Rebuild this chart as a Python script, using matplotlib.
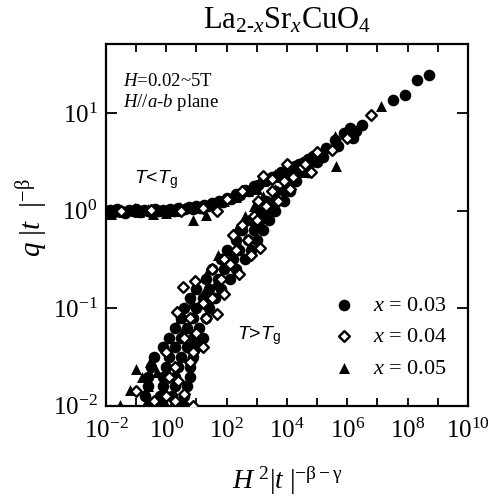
import numpy as np
import matplotlib
matplotlib.use("Agg")
import matplotlib.pyplot as plt
from matplotlib.ticker import FixedLocator, FixedFormatter, NullLocator

plt.rcParams['font.family'] = ['Liberation Serif', 'DejaVu Serif']
plt.rcParams['mathtext.fontset'] = 'custom'
plt.rcParams['mathtext.rm'] = 'Liberation Serif'
plt.rcParams['mathtext.it'] = 'Liberation Serif:italic'
plt.rcParams['mathtext.sf'] = 'Liberation Sans:italic'
plt.rcParams['mathtext.bf'] = 'Liberation Sans'

# values, kept as log10 (x = H^2|t|^(-b-g), y = q|t|^-b)
# x = 0.03, filled circles
circ_upper_x = [-2.0, -1.88, -1.75, -1.62, -1.5, -1.38, -1.25, -1.12, -1.0, -0.88, -0.75, -0.62,
                -0.5, -0.38, -0.25, -0.12, 0.0, 0.12, 0.25, 0.38, 0.5, 0.62, 0.75, 0.88, 1.0, 1.12,
                1.25, 1.38, 1.5, 1.62, 1.75, 1.88, 2.0, 2.15, 2.3, 2.45, 2.6, 2.75, 2.9, 3.05, 3.2,
                3.35, 3.5, 3.65, 3.8, 3.95, 4.1, 4.25, 4.4, 4.55, 4.7, 4.85]
circ_upper_y = [0.0, 0.01, -0.01, 0.02, 0.0, -0.02, 0.01, 0.0, 0.02, -0.01, 0.01, 0.0,
                -0.01, 0.02, 0.0, 0.01, -0.01, 0.02, 0.0, 0.03, 0.01, 0.02, 0.04, 0.02, 0.05, 0.03,
                0.06, 0.05, 0.08, 0.07, 0.1, 0.09, 0.13, 0.12, 0.17, 0.16, 0.21, 0.2, 0.25, 0.26, 0.3,
                0.31, 0.35, 0.36, 0.4, 0.41, 0.44, 0.46, 0.48, 0.5, 0.53, 0.56]
circ_lower_x = [-0.6, -0.1, 0.3, 0.6,
                -0.7, -0.2, 0.2, 0.6,
                -0.6, -0.1, 0.3, 0.7,
                -0.6, -0.1, 0.3, 0.8,
                -0.5, 0.0, 0.4, 0.8,
                -0.4, 0.1, 0.5, 0.9,
                -0.1, 0.3, 0.7, 1.0,
                0.1, 0.5, 0.9, 1.2,
                0.3, 0.7, 1.1,
                0.5, 0.9, 1.3,
                0.6, 1.0, 1.4,
                0.8, 1.2, 1.6,
                1.0, 1.4, 1.8,
                1.3, 1.7, 2.1,
                1.5, 1.9, 2.3,
                1.8, 2.2, 2.6,
                2.0, 2.4, 2.8,
                2.3, 2.7, 3.0,
                2.5, 2.9, 3.2,
                2.8, 3.1, 3.4,
                3.0, 3.3, 3.6,
                3.3, 3.6, 3.9,
                3.6, 3.9, 4.1,
                4.0, 4.3, 4.4, 4.7, 4.8, 5.0, 5.2]
circ_lower_y = [-2.0, -2.0, -2.0, -2.0,
                -1.9, -1.9, -1.9, -1.9,
                -1.8, -1.8, -1.8, -1.8,
                -1.7, -1.7, -1.7, -1.7,
                -1.6, -1.6, -1.6, -1.6,
                -1.5, -1.5, -1.5, -1.5,
                -1.4, -1.4, -1.4, -1.4,
                -1.3, -1.3, -1.3, -1.3,
                -1.2, -1.2, -1.2,
                -1.1, -1.1, -1.1,
                -1.0, -1.0, -1.0,
                -0.9, -0.9, -0.9,
                -0.8, -0.8, -0.8,
                -0.7, -0.7, -0.7,
                -0.6, -0.6, -0.6,
                -0.5, -0.5, -0.5,
                -0.4, -0.4, -0.4,
                -0.3, -0.3, -0.3,
                -0.2, -0.2, -0.2,
                -0.1, -0.1, -0.1,
                0.0, 0.0, 0.0,
                0.1, 0.1, 0.1,
                0.2, 0.2, 0.2,
                0.3, 0.3, 0.4, 0.4, 0.5, 0.5, 0.55]
circ_tail_x = [5.3, 5.6, 5.7, 5.9, 6.1, 6.2, 6.3, 6.5, 7.5, 7.9, 8.3, 8.7]
circ_tail_y = [0.64, 0.72, 0.66, 0.8, 0.85, 0.74, 0.82, 0.88, 1.13, 1.19, 1.34, 1.39]

# x = 0.04, open diamonds
diam_x = [-1.5, -0.5, 0.5, 1.2, 1.68, 2.0, 2.5, 3.03, 3.2, 3.5, 4.0, 4.5, 5.0,
          -1.0, -0.4, 0.0, 0.3, 0.6, 0.9, 0.3, 0.8, 0.0, 0.6, 1.0, 1.2, 0.8, 1.68,
          0.55, 0.95, 1.5, 1.8, 1.9, 2.1, 2.3, 2.7, 2.5, 2.9, 3.1, 3.3, 3.5, 3.9, 4.2,
          4.6, 4.8, 5.5, 6.0, 6.8, 1.3, 0.4, 2.4, 3.0, 0.9, 1.9, 2.8, 3.7, 4.1,
          1.5, 2.2, 0.1, 1.2, 0.35]
diam_y = [0.0, 0.01, 0.0, 0.03, 0.0, 0.12, 0.2, 0.1, 0.36, 0.32, 0.48, 0.45, 0.6,
          -1.85, -1.95, -1.9, -1.95, -1.88, -2.0, -1.6, -1.55, -1.45, -1.3, -1.25, -1.4, -1.1, -1.06,
          -0.78, -0.72, -0.9, -0.7, -0.5, -0.55, -0.4, -0.3, -0.15, -0.05, -0.38, 0.05, 0.2, 0.3, 0.35,
          0.48, 0.4, 0.62, 0.75, 0.98, -1.1, -1.75, -0.65, -0.1, -1.45, -0.85, -0.45, 0.1, 0.22,
          -0.6, -0.25, -1.7, -0.95, -1.04]

# x = 0.05, filled triangles
tri_x = [-2.0, -1.85, -1.7, -1.45, -1.2, -1.05, -0.9, -0.6, -0.45, -0.3, 0.0, 0.3, 0.45, 0.6,
         0.9, 0.9, 1.2, 1.3, 1.6, 1.9, 2.3, 2.7, 3.0, 3.2, 3.6, 3.8, 4.1, 4.4, 5.0, 5.6, 5.62, 7.1,
         -1.54, -1.2, -0.54, -0.8, -0.3, 0.0, 0.6, 0.45, 0.85, 1.2, 1.4, 1.7, 2.0, 2.3,
         2.6, 2.9, 3.2, 3.6, 4.1, 4.6, -1.0, -0.6, 1.0, 1.6, 2.4, 3.0]
tri_y = [0.0, -0.03, 0.02, -0.01, 0.01, 0.03, -0.01, 0.02, -0.03, 0.02, -0.02, 0.0, 0.04, 0.03,
         0.03, -0.1, 0.06, -0.04, 0.08, 0.1, 0.14, 0.2, 0.22, 0.3, 0.38, 0.35, 0.45, 0.46, 0.58, 0.77,
         0.46, 1.07,
         -1.99, -1.84, -1.55, -1.7, -1.65, -1.4, -1.2, -1.1, -0.95, -0.85, -0.6, -0.45, -0.4, -0.2,
         -0.05, 0.05, 0.15, 0.22, 0.3, 0.4, -1.62, -1.8, -1.3, -0.75, -0.35, -0.15]

labels = ['$x$ = 0.03', '$x$ = 0.04', '$x$ = 0.05']

fig = plt.figure(figsize=(4.92, 5.01), dpi=100)
ax = fig.add_axes([0.2154, 0.190, 0.7358, 0.722])

cx = np.power(10.0, circ_upper_x + circ_lower_x + circ_tail_x)
cy = np.power(10.0, circ_upper_y + circ_lower_y + circ_tail_y)
ax.scatter(cx, cy, s=70, marker='o', c='black', linewidths=0, zorder=3, label=labels[0])
ax.scatter(np.power(10.0, tri_x), np.power(10.0, tri_y), s=62, marker='^', c='black',
           linewidths=0, zorder=3, label=labels[2])
ax.scatter(np.power(10.0, diam_x), np.power(10.0, diam_y), s=30, marker='D', facecolors='white',
           edgecolors='black', linewidths=1.7, zorder=4, label=labels[1])

ax.set_xscale('log')
ax.set_yscale('log')
ax.set_xlim(1e-2, 1e10)
ax.set_ylim(1e-2, 51)

xt = [10.0 ** k for k in range(-2, 11)]
xl = ['$10^{%d}$' % k if k % 2 == 0 else '' for k in range(-2, 11)]
ax.xaxis.set_major_locator(FixedLocator(xt))
ax.xaxis.set_major_formatter(FixedFormatter(xl))
ax.xaxis.set_minor_locator(NullLocator())
yt = [1e-2, 1e-1, 1e0, 1e1]
ax.yaxis.set_major_locator(FixedLocator(yt))
ax.yaxis.set_major_formatter(FixedFormatter(['$10^{-2}$', '$10^{-1}$', '$10^{0}$', '$10^{1}$']))
ax.yaxis.set_minor_locator(NullLocator())

ax.tick_params(axis='x', which='major', direction='in', top=True, length=6, width=1.3,
               labelsize=18, pad=9)
ax.tick_params(axis='y', which='major', direction='in', right=True, length=8, width=1.3,
               labelsize=18, pad=6)
for sp in ax.spines.values():
    sp.set_linewidth(1.6)

ax.set_title('La$_{2\u2010x}$Sr$_x$CuO$_4$', fontsize=22, pad=11)
ax.set_xlabel('$H^{\\ 2}|t\\ |^{-\\mathrm{\u03b2}-\\mathrm{\u03b3}}$', fontsize=20, labelpad=16)
ax.set_ylabel('$q\\ |t\\ \\ |^{-\\mathrm{\u03b2}}$', fontsize=21)
ax.yaxis.set_label_coords(-0.155, 0.52)

ax.text(0.047, 0.884, '$H$=0.02~5T', transform=ax.transAxes, fontsize=13.5, va='baseline')
ax.text(0.047, 0.826, '$H$//$a$-$b$ plane', transform=ax.transAxes, fontsize=13.5, va='baseline')

ax.text(0.077, 0.616, '$\\mathsf{T}$<$\\mathsf{T}_{\\mathbf{g}}$', transform=ax.transAxes,
        fontsize=14, va='baseline', family=['Liberation Sans', 'DejaVu Sans'])
ax.text(0.362, 0.185, '$\\mathsf{T}$>$\\mathsf{T}_{\\mathbf{g}}$', transform=ax.transAxes,
        fontsize=14, va='baseline', family=['Liberation Sans', 'DejaVu Sans'])

h, l = ax.get_legend_handles_labels()
order = [0, 2, 1]
ax.legend([h[i] for i in order], [l[i] for i in order], loc='lower right',
          bbox_to_anchor=(0.967, 0.05), frameon=False, fontsize=16, handletextpad=0.3,
          labelspacing=0.5, borderaxespad=0)

fig.savefig('out.png', dpi=100)
